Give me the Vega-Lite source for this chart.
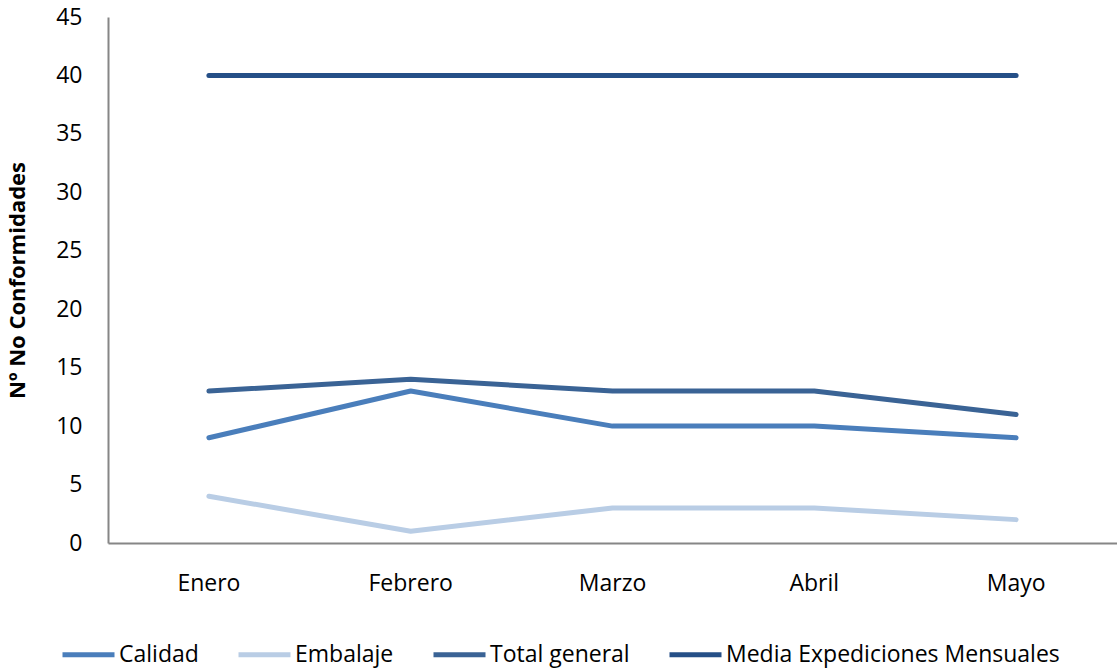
{
  "$schema": "https://vega.github.io/schema/vega-lite/v6.json",
  "width": 1009,
  "height": 526,
  "autosize": {"type": "none"},
  "padding": {"left": 108, "top": 17, "right": 0, "bottom": 128},
  "background": "white",
  "config": {
    "view": {"stroke": null},
    "font": "Open Sans",
    "axis": {"grid": false, "ticks": false, "domainColor": "#868686", "domainWidth": 2, "labelColor": "#000000", "labelFont": "Open Sans", "labelFontSize": 23}
  },
  "data": {
    "values": [
      {"mes": "Enero", "serie": "Calidad", "valor": 9},
      {"mes": "Febrero", "serie": "Calidad", "valor": 13},
      {"mes": "Marzo", "serie": "Calidad", "valor": 10},
      {"mes": "Abril", "serie": "Calidad", "valor": 10},
      {"mes": "Mayo", "serie": "Calidad", "valor": 9},
      {"mes": "Enero", "serie": "Embalaje", "valor": 4},
      {"mes": "Febrero", "serie": "Embalaje", "valor": 1},
      {"mes": "Marzo", "serie": "Embalaje", "valor": 3},
      {"mes": "Abril", "serie": "Embalaje", "valor": 3},
      {"mes": "Mayo", "serie": "Embalaje", "valor": 2},
      {"mes": "Enero", "serie": "Total general", "valor": 13},
      {"mes": "Febrero", "serie": "Total general", "valor": 14},
      {"mes": "Marzo", "serie": "Total general", "valor": 13},
      {"mes": "Abril", "serie": "Total general", "valor": 13},
      {"mes": "Mayo", "serie": "Total general", "valor": 11},
      {"mes": "Enero", "serie": "Media Expediciones Mensuales", "valor": 40},
      {"mes": "Febrero", "serie": "Media Expediciones Mensuales", "valor": 40},
      {"mes": "Marzo", "serie": "Media Expediciones Mensuales", "valor": 40},
      {"mes": "Abril", "serie": "Media Expediciones Mensuales", "valor": 40},
      {"mes": "Mayo", "serie": "Media Expediciones Mensuales", "valor": 40}
    ]
  },
  "mark": {"type": "line", "strokeWidth": 5, "strokeCap": "round", "strokeJoin": "round"},
  "encoding": {
    "x": {
      "field": "mes",
      "type": "ordinal",
      "sort": ["Enero", "Febrero", "Marzo", "Abril", "Mayo"],
      "scale": {"type": "band", "paddingInner": 0, "paddingOuter": 0},
      "axis": {"title": null, "labelAngle": 0, "labelPadding": 29, "domain": true}
    },
    "y": {
      "field": "valor",
      "type": "quantitative",
      "scale": {"domain": [0, 45], "nice": false},
      "axis": {
        "values": [0, 5, 10, 15, 20, 25, 30, 35, 40, 45],
        "title": "Nº No Conformidades",
        "titleFontSize": 22,
        "titleFontWeight": "bold",
        "titleFont": "Open Sans",
        "titleColor": "#000000",
        "titlePadding": 26,
        "labelPadding": 26
      }
    },
    "color": {
      "field": "serie",
      "type": "nominal",
      "scale": {
        "domain": ["Calidad", "Embalaje", "Total general", "Media Expediciones Mensuales"],
        "range": ["#4A7EBB", "#B9CDE5", "#3A6395", "#254F87"]
      },
      "legend": {
        "title": null,
        "orient": "none",
        "direction": "horizontal",
        "legendX": -48,
        "legendY": 609,
        "symbolType": "stroke",
        "symbolSize": 2704,
        "symbolStrokeWidth": 5,
        "labelFontSize": 23,
        "labelFont": "Open Sans",
        "labelColor": "#000000",
        "labelOffset": 2,
        "columnPadding": 29,
        "labelLimit": 400
      }
    }
  }
}
